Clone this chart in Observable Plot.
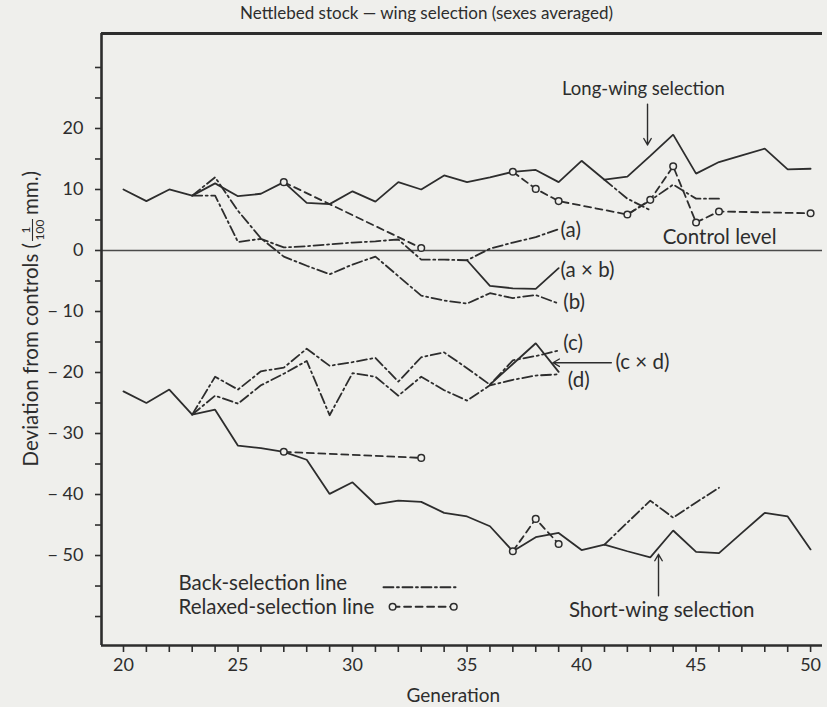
<!DOCTYPE html>
<html><head><meta charset="utf-8">
<script src="https://cdn.jsdelivr.net/npm/d3@7"></script>
<script src="https://cdn.jsdelivr.net/npm/@observablehq/plot@0.6"></script>
<style>
html,body{margin:0;padding:0;background:#efefec;}
#chart svg{display:block;}
</style></head><body><div id="chart"></div>
<script>
// ---------- data ----------
const titleText = "Nettlebed stock \u2014 wing selection (sexes averaged)";
const xLabelText = "Generation";
const yLabelMain = "Deviation from controls (";
const yLabelNum = "1", yLabelDen = "100", yLabelEnd = "mm.)";

const xDomain = [19.04, 50.52];
const yDomain = [-64.75, 35.57];
const genTicks = [20,21,22,23,24,25,26,27,28,29,30,31,32,33,34,35,36,37,38,39,40,41,42,43,44,45,46,47,48,49,50];
const genLabels = [20,25,30,35,40,45,50];
const devTicks = [-60,-55,-50,-45,-40,-35,-30,-25,-20,-15,-10,-5,0,5,10,15,20,25,30];
const devLabels = [20,10,0,-10,-20,-30,-40,-50];

const longGen = [20,21,22,23,24,25,26,27,28,29,30,31,32,33,34,35,36,37,38,39,40,41,42,43,44,45,46,47,48,49,50];
const longDev = [10,8.1,10,9,11,8.9,9.3,11.2,7.8,7.6,9.7,8,11.2,10,12.3,11.2,12,12.9,13.2,11.2,14.7,11.6,12.1,15.5,19,12.6,14.5,15.6,16.7,13.3,13.4];

const shortGen = [20,21,22,23,24,25,26,27,28,29,30,31,32,33,34,35,36,37,38,39,40,41,42,43,44,45,46,47,48,49,50];
const shortDev = [-23.1,-25,-22.8,-26.9,-26.1,-32,-32.4,-33,-34.3,-39.9,-38,-41.6,-41,-41.2,-43,-43.6,-45.2,-49.3,-47,-46.3,-49.1,-48.2,-49.3,-50.3,-45.9,-49.4,-49.6,-46.3,-43,-43.6,-49];

const backAGen = [23,24,25,26,27,28,29,30,31,32,33,34,35,36,37,38,39];
const backADev = [9,9,1.4,1.9,0.5,0.7,1,1.3,1.5,1.8,-1.5,-1.5,-1.6,0.3,1.3,2.2,3.5];
const backBGen = [23,24,25,26,27,28,29,30,31,32,33,34,35,36,37,38,39];
const backBDev = [9,12,6.5,2,-1,-2.5,-3.9,-2.3,-1,-4.2,-7.4,-8.2,-8.7,-7,-7.8,-7.3,-8.7];
const crossABGen = [35,36,37,38,39];
const crossABDev = [-1.6,-5.8,-6.2,-6.3,-2.9];

const backL1Gen = [41,42,43];
const backL1Dev = [11.6,8.5,6.6];
const backL2Gen = [42,43,44,45,46];
const backL2Dev = [5.9,8.2,10.8,8.5,8.5];

const backCGen = [23,24,25,26,27,28,29,30,31,32,33,34,35,36,37,38,39];
const backCDev = [-26.9,-20.7,-22.8,-19.8,-19.2,-16.1,-18.9,-18.3,-17.6,-21.5,-17.5,-16.7,-19.3,-22,-18,-17.3,-16.4];
const backDGen = [23,24,25,26,27,28,29,30,31,32,33,34,35,36,37,38,39];
const backDDev = [-26.9,-23.8,-25.1,-22.1,-20.2,-18.1,-27,-20.1,-20.7,-23.8,-20.7,-22.9,-24.6,-22.1,-21.2,-20.5,-20.3];
const crossCDGen = [36,37,38,39];
const crossCDDev = [-22,-18.6,-15.2,-19.9];

const backSGen = [41,42,43,44,45,46];
const backSDev = [-48.2,-44.6,-41,-43.8,-41.3,-38.9];

const relaxL1Gen = [27,33];
const relaxL1Dev = [11.2,0.4];
const relaxL2Gen = [37,38,39,42,43,44,45,46,50];
const relaxL2Dev = [12.9,10.1,8.1,5.9,8.3,13.8,4.6,6.4,6.1];
const relaxS1Gen = [27,33];
const relaxS1Dev = [-33,-34];
const relaxS2Gen = [37,38,39];
const relaxS2Dev = [-49.3,-44,-48.1];

// annotations (position in generation / deviation units)
const labelTexts = ["(a)", "(a \u00d7 b)", "(b)", "Control level", "(c)", "(d)", "(c \u00d7 d)"];
const labelGen   = [39.08, 39.08, 39.2, 43.54, 39.2, 39.4, 41.48];
const labelDev   = [3.3, -3.3, -8.5, 2.1, -15.25, -21.3, -18.36];
const centeredTexts = ["Long-wing selection", "Short-wing selection"];
const centeredGen = [42.7, 43.5];
const centeredDev = [26.4, -59];
const arrowSpec = [
  {g1: 42.88, v1: 24.0, g2: 42.88, v2: 17.3},
  {g1: 43.36, v1: -56.6, g2: 43.36, v2: -49.8},
  {g1: 41.3, v1: -18.4, g2: 38.75, v2: -18.4}
];
const legendTexts = ["Back-selection line", "Relaxed-selection line"];
const legendGen = [22.4, 22.4];
const legendDev = [-54.6, -58.5];
const legendBackGen = [31.35, 34.5];
const legendBackDev = [-55.2, -55.2];
const legendRelaxGen = [31.75, 34.42];
const legendRelaxDev = [-58.4, -58.4];

// ---------- helpers ----------
const zip = (gs, vs) => gs.map((g, i) => ({g, v: vs[i]}));
const ink = "#2d2d2d";
const bg = "#efefec";
const font = "Lato, 'Open Sans', sans-serif";
const dashDot = "10,3.5,2,3.5";
const dashed = "7,4.5";
const lw = 1.8;

const solid = (gs, vs) => Plot.line(zip(gs, vs), {x: "g", y: "v", stroke: ink, strokeWidth: lw, strokeLinejoin: "miter"});
const dd = (gs, vs) => Plot.line(zip(gs, vs), {x: "g", y: "v", stroke: ink, strokeWidth: lw, strokeDasharray: dashDot});
const relaxed = (gs, vs) => [
  Plot.line(zip(gs, vs), {x: "g", y: "v", stroke: ink, strokeWidth: lw, strokeDasharray: dashed}),
  Plot.dot(zip(gs, vs), {x: "g", y: "v", r: 3.3, fill: bg, stroke: ink, strokeWidth: 1.5})
];

const chart = Plot.plot({
  width: 827, height: 707,
  marginLeft: 101, marginRight: 5, marginTop: 33, marginBottom: 62,
  style: {background: bg, color: ink, fontFamily: font, fontSize: "18px", overflow: "visible"},
  x: {domain: xDomain, label: null},
  y: {domain: yDomain, label: null},
  marks: [
    Plot.ruleY([0], {stroke: "#4a4a4a", strokeWidth: 1.6}),
    solid(longGen, longDev),
    solid(shortGen, shortDev),
    dd(backAGen, backADev),
    dd(backBGen, backBDev),
    solid(crossABGen, crossABDev),
    dd(backL1Gen, backL1Dev),
    dd(backL2Gen, backL2Dev),
    dd(backCGen, backCDev),
    dd(backDGen, backDDev),
    solid(crossCDGen, crossCDDev),
    dd(backSGen, backSDev),
    ...relaxed(relaxL1Gen, relaxL1Dev),
    ...relaxed(relaxL2Gen, relaxL2Dev),
    ...relaxed(relaxS1Gen, relaxS1Dev),
    ...relaxed(relaxS2Gen, relaxS2Dev),
    // legend samples
    dd(legendBackGen, legendBackDev),
    ...relaxed(legendRelaxGen, legendRelaxDev),
    Plot.text(labelTexts, {x: (d, i) => labelGen[i], y: (d, i) => labelDev[i], text: d => d, textAnchor: "start", fontSize: 20.5, fill: ink}),
    Plot.text(centeredTexts, {x: (d, i) => centeredGen[i], y: (d, i) => centeredDev[i], text: d => d, textAnchor: "middle", fontSize: (d, i) => i === 0 ? 18.5 : 20.5, fill: ink}),
    Plot.text(legendTexts, {x: (d, i) => legendGen[i], y: (d, i) => legendDev[i], text: d => d, textAnchor: "start", fontSize: 20.5, fill: ink}),
    Plot.arrow(arrowSpec, {x1: "g1", y1: "v1", x2: "g2", y2: "v2", stroke: ink, strokeWidth: 1.4, headLength: 8}),
    // frame: left, top, bottom
    Plot.ruleX([xDomain[0]], {stroke: ink, strokeWidth: 2.6}),
    Plot.ruleY([yDomain[1]], {stroke: ink, strokeWidth: 3}),
    Plot.ruleY([yDomain[0]], {stroke: ink, strokeWidth: 2.6}),
    // axes
    Plot.axisX({ticks: genTicks, tickSize: 7, tickFormat: () => "", label: null, stroke: ink, strokeWidth: 1.6}),
    Plot.axisX({ticks: genLabels, tickSize: 0, tickPadding: 13, label: null, fontSize: 18, fill: ink}),
    Plot.axisY({ticks: devTicks, tickSize: 6, tickFormat: () => "", label: null, stroke: ink, strokeWidth: 1.6}),
    Plot.axisY({ticks: devLabels, tickSize: 0, tickPadding: 18, label: null, fontSize: 18, fill: ink,
      tickFormat: d => d < 0 ? "\u2212 " + Math.abs(d) : String(d)}),
    Plot.text([titleText], {x: 33.23, y: yDomain[1], dy: -20, text: d => d, fontSize: 17, fill: ink}),
    Plot.text([xLabelText], {x: 34.4, y: yDomain[0], dy: 50, text: d => d, fontSize: 19, fill: ink})
  ]
});
document.getElementById("chart").appendChild(chart);

// rotated y-axis label with a stacked fraction (fraction centred at screen y = F)
const F = 230;
const g = d3.select(chart).append("g")
  .attr("fill", ink)
  .attr("transform", "translate(38,0) rotate(-90)")
  .style("font-family", font);
g.append("text").attr("x", -(F + 13)).attr("y", 0).attr("font-size", 20.5).attr("text-anchor", "end").text(yLabelMain);
g.append("text").attr("x", -F).attr("y", -8).attr("font-size", 12).attr("text-anchor", "middle").text(yLabelNum);
g.append("line").attr("x1", -F - 11).attr("x2", -F + 11).attr("y1", -5.5).attr("y2", -5.5).attr("stroke", ink).attr("stroke-width", 1.1);
g.append("text").attr("x", -F).attr("y", 5.5).attr("font-size", 12).attr("text-anchor", "middle").text(yLabelDen);
g.append("text").attr("x", -(F - 15)).attr("y", 0).attr("font-size", 20.5).attr("text-anchor", "start").text(yLabelEnd);
</script></body></html>
